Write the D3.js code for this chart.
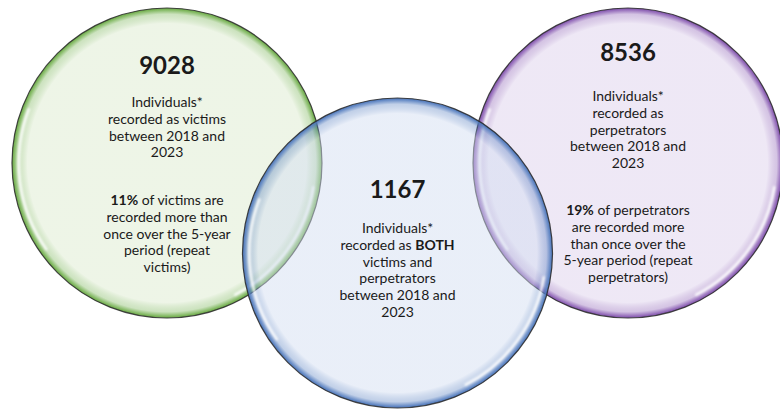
<!DOCTYPE html>
<html>
<head>
<meta charset="utf-8">
<script src="https://cdn.jsdelivr.net/npm/d3@7"></script>
<style>
  body { margin: 0; background: #fff; }
  text { font-family: Lato, "Open Sans", sans-serif; fill: #1a1a1a; }
</style>
</head>
<body>
<svg id="chart" width="780" height="409"></svg>
<script>
// sets of the venn: victims, both, perpetrators
var setNames = ["victims", "both", "perpetrators"];
var setCounts = [9028, 1167, 8536];
var setLevel = ["single", "both", "single"];
var setColors = ["#6fae4a", "#4f79bd", "#8556b0"];
var setFills = ["#dbeacd", "#d2ddf1", "#dccfeb"];

// text lines under each number; "**" marks bold words
var descLines = [
    ["Individuals*", "recorded as victims", "between 2018 and", "2023"],
    ["Individuals*", "recorded as **BOTH**", "victims and", "perpetrators", "between 2018 and", "2023"],
    ["Individuals*", "recorded as", "perpetrators", "between 2018 and", "2023"]
];
var repeatLines = [
    ["**11%** of victims are", "recorded more than", "once over the 5-year", "period (repeat", "victims)"],
    [],
    ["**19%** of perpetrators", "are recorded more", "than once over the", "5-year period (repeat", "perpetrators)"]
];

var svg = d3.select("#chart");
var radius = 155;

var x = d3.scalePoint().domain(setNames).range([167, 628]);
var y = d3.scalePoint().domain(["single", "both"]).range([163, 253]);

var defs = svg.append("defs");
setNames.forEach(function (name, i) {
    var grad = defs.append("radialGradient")
        .attr("id", "rim-" + name);
    grad.append("stop").attr("offset", "0%").attr("stop-color", setFills[i]).attr("stop-opacity", 0.48);
    grad.append("stop").attr("offset", "90%").attr("stop-color", setFills[i]).attr("stop-opacity", 0.48);
    grad.append("stop").attr("offset", "96%").attr("stop-color", setColors[i]).attr("stop-opacity", 0.35);
    grad.append("stop").attr("offset", "99%").attr("stop-color", setColors[i]).attr("stop-opacity", 0.9);
    grad.append("stop").attr("offset", "100%").attr("stop-color", setColors[i]).attr("stop-opacity", 1);
});
defs.append("filter").attr("id", "soft")
    .append("feGaussianBlur").attr("stdDeviation", 1);

// draw order: green, purple, blue on top
var order = [0, 2, 1];

var circles = svg.selectAll("g.set")
    .data(order)
    .enter()
    .append("g")
    .attr("class", "set")
    .attr("transform", function (i) {
        return "translate(" + x(setNames[i]) + "," + y(setLevel[i]) + ")";
    });

circles.append("circle")
    .attr("r", radius)
    .attr("fill", function (i) { return "url(#rim-" + setNames[i] + ")"; })
    .attr("stroke", "#262626")
    .attr("stroke-width", 1.2)
    .attr("stroke-opacity", 0.85);

// glassy white highlights inside the rim
var arc = d3.arc()
    .innerRadius(radius - 8)
    .outerRadius(radius - 5.5);
circles.append("path")
    .attr("d", arc.startAngle(Math.PI * 0.55).endAngle(Math.PI * 0.85))
    .attr("fill", "#fff")
    .attr("opacity", 0.9)
    .attr("filter", "url(#soft)");
circles.append("path")
    .attr("d", arc.startAngle(Math.PI * 1.3).endAngle(Math.PI * 1.62))
    .attr("fill", "#fff")
    .attr("opacity", 0.9)
    .attr("filter", "url(#soft)");

function addLine(textSel, line) {
    var parts = line.split("**");
    parts.forEach(function (p, k) {
        if (p === "") return;
        textSel.append("tspan")
            .attr("font-weight", k % 2 === 1 ? "bold" : "normal")
            .text(p);
    });
}

var numY = [-89, -55, -102];
var descY = [-56, -20, -62];
var repY = [42, 0, 52];
var lineH = 16.8;

setNames.forEach(function (name, i) {
    var g = svg.append("g")
        .attr("transform", "translate(" + x(name) + "," + y(setLevel[i]) + ")");
    g.append("text")
        .attr("text-anchor", "middle")
        .attr("y", numY[i])
        .attr("font-size", 24)
        .attr("font-weight", "bold")
        .text(setCounts[i]);
    descLines[i].forEach(function (line, k) {
        var t = g.append("text")
            .attr("text-anchor", "middle")
            .attr("y", descY[i] + k * lineH)
            .attr("font-size", 14);
        addLine(t, line);
    });
    repeatLines[i].forEach(function (line, k) {
        var t = g.append("text")
            .attr("text-anchor", "middle")
            .attr("y", repY[i] + k * lineH)
            .attr("font-size", 14);
        addLine(t, line);
    });
});
</script>
</body>
</html>
